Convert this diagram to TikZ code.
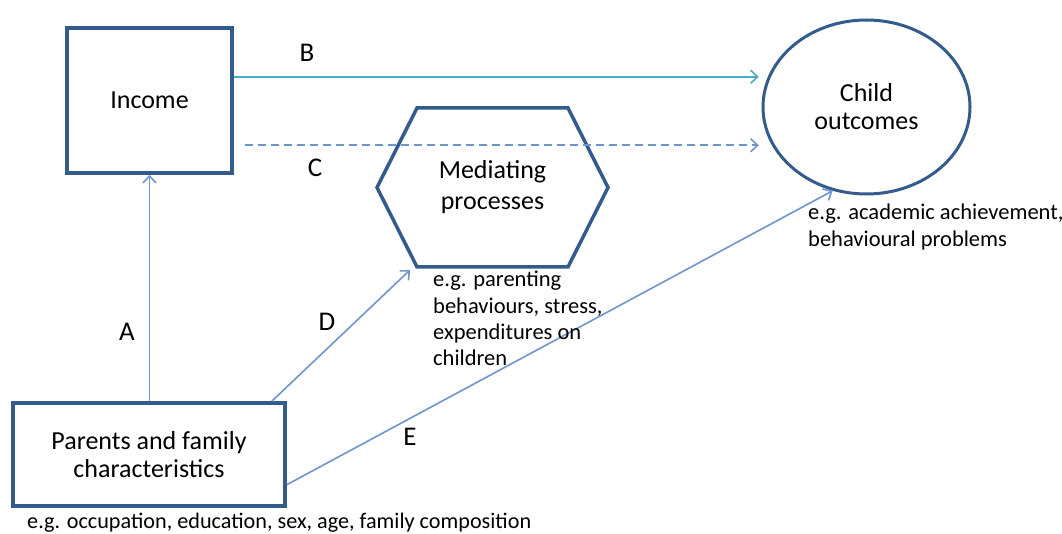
\documentclass[tikz,border=0pt]{standalone}
\usepackage{fontspec}
\setmainfont{Carlito}
\usetikzlibrary{shapes.geometric,arrows.meta}
\definecolor{boxblue}{HTML}{335B8C}
\definecolor{tealline}{HTML}{4BACC6}
\definecolor{blueline}{HTML}{6E96CD}

\begin{document}
\begin{tikzpicture}[x=1pt,y=-1pt,
    box/.style={draw=boxblue,line width=3.5pt,align=center,font=\fontsize{26}{28}\selectfont},
    note/.style={align=left,inner sep=0pt,anchor=north west,font=\fontsize{22.5}{26.3}\selectfont},
    lbl/.style={inner sep=0pt,font=\fontsize{27}{30}\selectfont},
    arr/.style={blueline,line width=1.6pt,-{Straight Barb[length=7pt,width=13pt]}}]
            \useasboundingbox (0,0) rectangle (1062,534);
            \node[box,minimum width=165pt,minimum height=145pt] (inc) at (149.5,100.5) {Income};
            \node[box,minimum width=272pt,minimum height=103pt] (par) at (149,454.5) {Parents and family\\characteristics};
            \node[box,ellipse,line width=3pt,minimum width=207pt,minimum height=174pt] (child) at (866.5,107) {Child\\outcomes};
            \node[align=center,outer sep=0pt,minimum width=231pt,minimum height=159pt,font=\fontsize{26}{31}\selectfont] (med) at (492.5,187.5) {Mediating\\processes};
            \draw[boxblue,line width=3.5pt,line join=miter] (med.west) -- ([xshift=40pt]med.north west) -- ([xshift=-40pt]med.north east)
                -- (med.east) -- ([xshift=-40pt]med.south east) -- ([xshift=40pt]med.south west) -- cycle;

            \coordinate (bEnd) at ([xshift=-9pt]child.163);
            \coordinate (cEnd) at ([xshift=-13pt]child.202);
            \draw[arr,tealline] (inc.east |- bEnd) -- (bEnd);
            \draw[arr,dash pattern=on 8pt off 5pt] ([xshift=11pt]inc.east |- cEnd) -- (cEnd);
            \draw[arr] (par.north -| inc.south) -- (inc.south);
            \draw[arr] ([xshift=-15pt]par.north east) -- ([shift={(33,3)}]med.south west);
            \draw[arr] ([yshift=23pt]par.south east) -- (child.248);

            \node[lbl] (labB) at (307,53) {B};
            \node[lbl] (labC) at (315,168) {C};
            \node[lbl] (labA) at (127,332) {A};
            \node[lbl] (labD) at (327,322) {D};
            \node[lbl] (labE) at (410,437) {E};

            \node[note] (medNote) at (433,271) {e.g. parenting\\behaviours, stress,\\expenditures on\\children};
            \node[note] (childNote) at (808,204) {e.g. academic achievement,\\behavioural problems};
            \node[note,font=\fontsize{22.2}{26}\selectfont] (parNote) at (27,513) {e.g. occupation, education, sex, age, family composition};
        \end{tikzpicture}
\end{document}
